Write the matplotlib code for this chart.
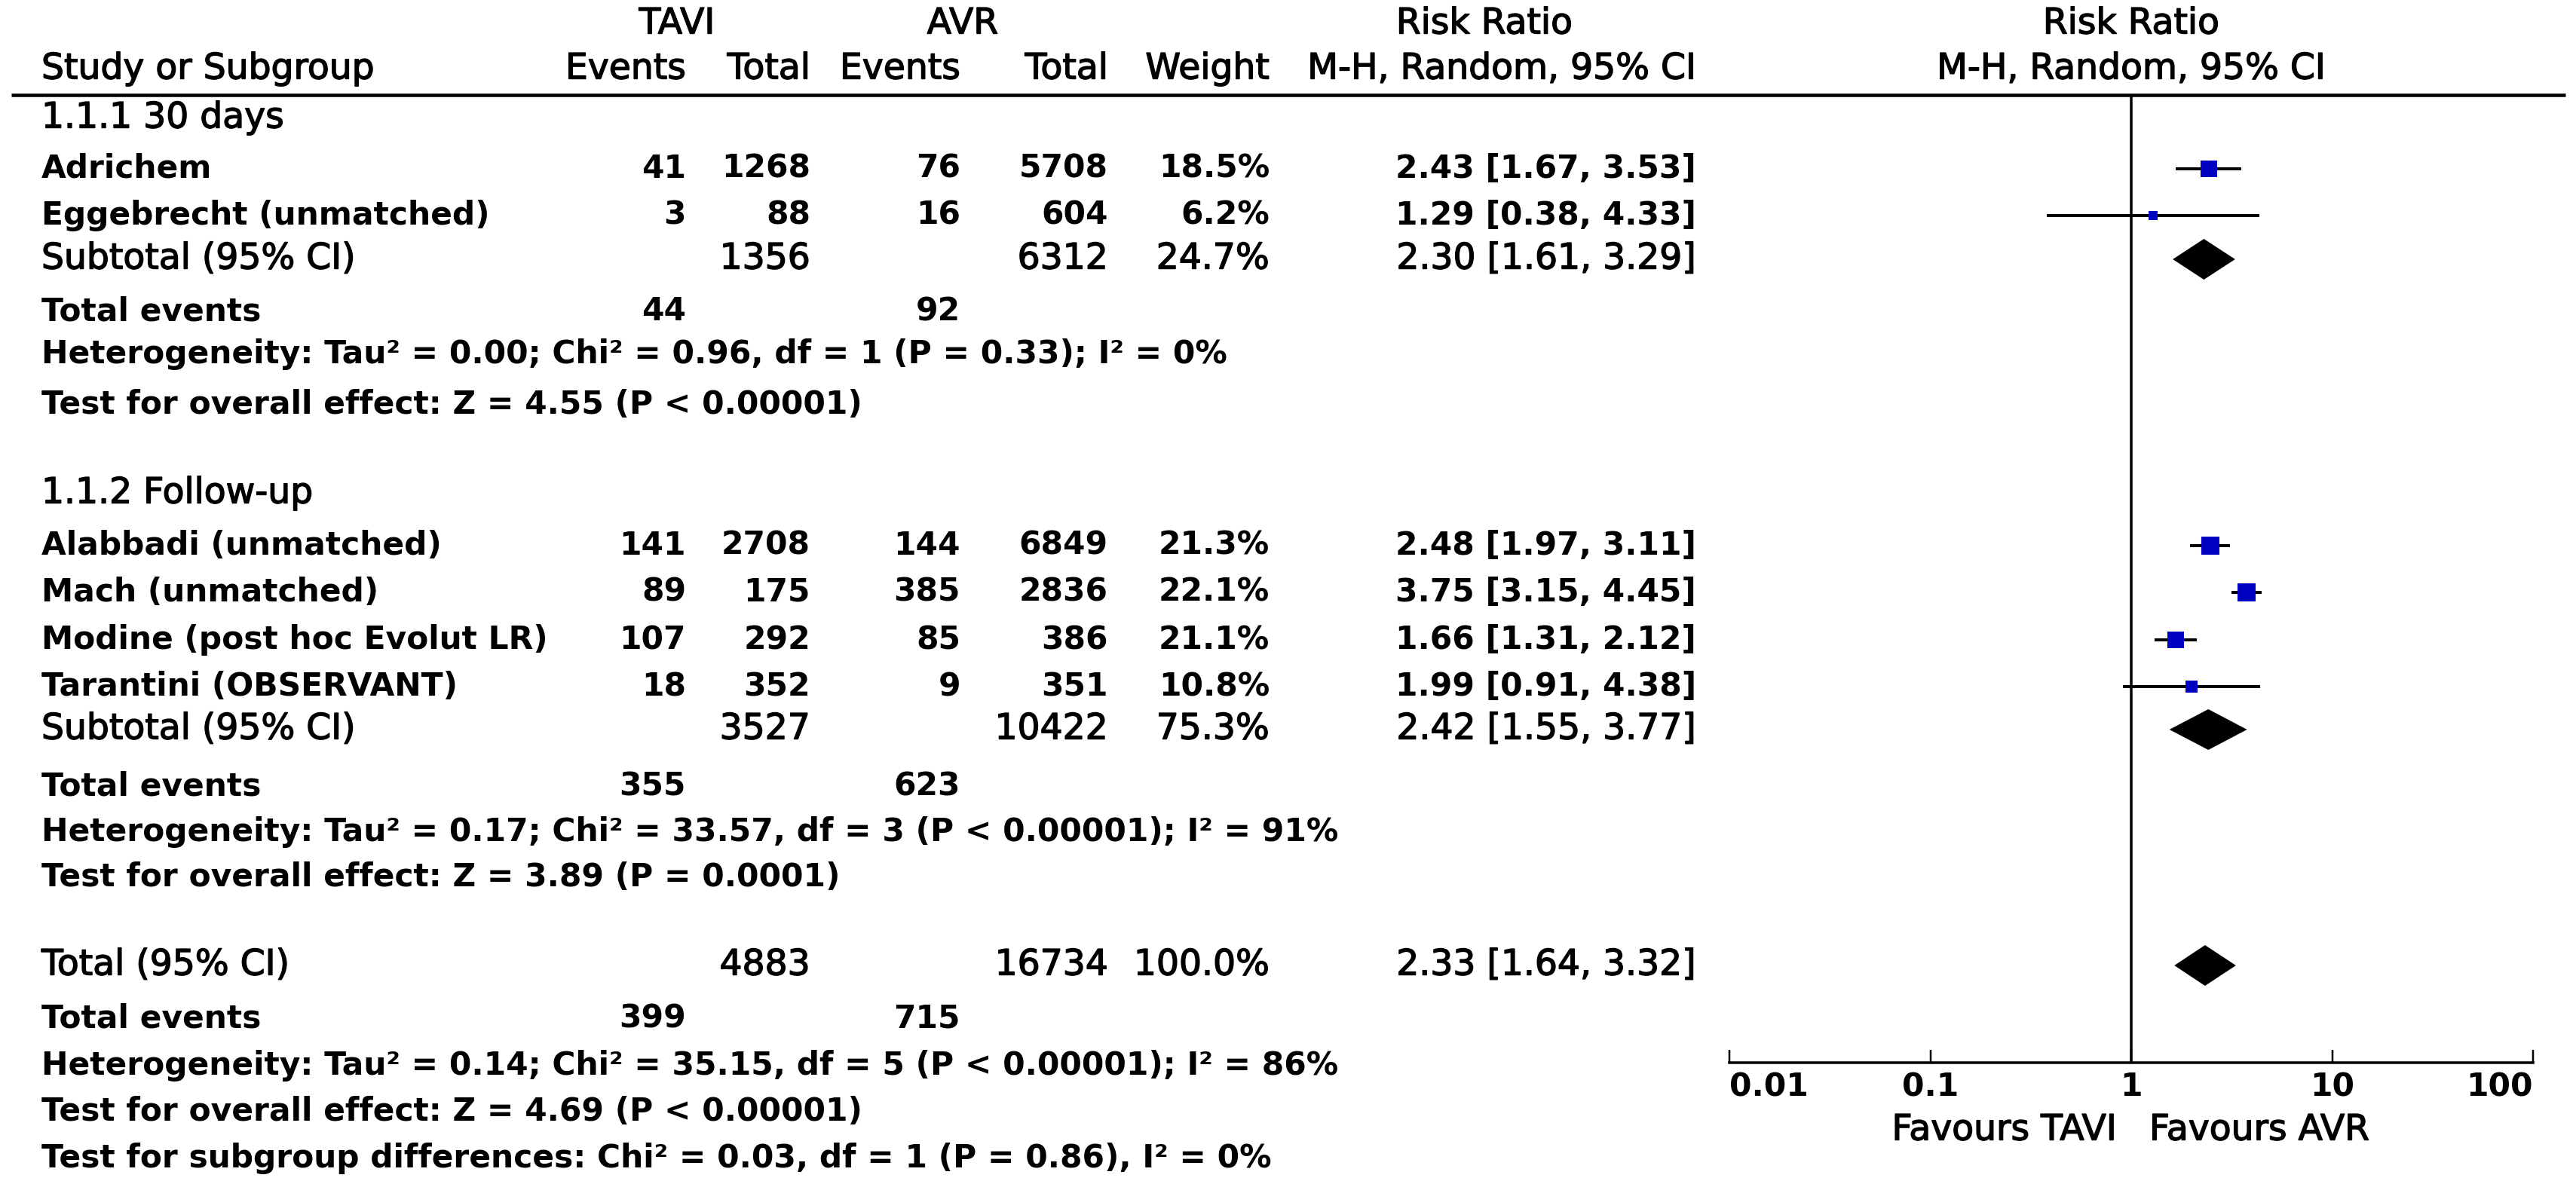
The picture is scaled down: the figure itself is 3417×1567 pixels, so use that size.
"""Forest plot: TAVI vs AVR, risk ratio (M-H, random), two subgroups."""

import matplotlib

matplotlib.use("Agg")
import matplotlib.pyplot as plt
import matplotlib.patheffects as pe
from matplotlib.patches import Polygon

# ---- data -----------------------------------------------------------------
study_names = [
    "Adrichem",
    "Eggebrecht (unmatched)",
    "Alabbadi (unmatched)",
    "Mach (unmatched)",
    "Modine (post hoc Evolut LR)",
    "Tarantini (OBSERVANT)",
]
tavi_events = [41, 3, 141, 89, 107, 18]
tavi_total = [1268, 88, 2708, 175, 292, 352]
avr_events = [76, 16, 144, 385, 85, 9]
avr_total = [5708, 604, 6849, 2836, 386, 351]
weights = [18.5, 6.2, 21.3, 22.1, 21.1, 10.8]
rr = [2.43, 1.29, 2.48, 3.75, 1.66, 1.99]
rr_lo = [1.67, 0.38, 1.97, 3.15, 1.31, 0.91]
rr_hi = [3.53, 4.33, 3.11, 4.45, 2.12, 4.38]

group_labels = ["1.1.1 30 days", "1.1.2 Follow-up"]
sub_tavi_total = [1356, 3527]
sub_avr_total = [6312, 10422]
sub_weight = [24.7, 75.3]
sub_rr = [2.30, 2.42]
sub_lo = [1.61, 1.55]
sub_hi = [3.29, 3.77]
sub_tavi_events = [44, 355]
sub_avr_events = [92, 623]
sub_het = [
    "Heterogeneity: Tau² = 0.00; Chi² = 0.96, df = 1 (P = 0.33); I² = 0%",
    "Heterogeneity: Tau² = 0.17; Chi² = 33.57, df = 3 (P < 0.00001); I² = 91%",
]
sub_z = [
    "Test for overall effect: Z = 4.55 (P < 0.00001)",
    "Test for overall effect: Z = 3.89 (P = 0.0001)",
]

tot_tavi_total = 4883
tot_avr_total = 16734
tot_weight = 100.0
tot_rr, tot_lo, tot_hi = 2.33, 1.64, 3.32
tot_tavi_events = 399
tot_avr_events = 715
tot_het = "Heterogeneity: Tau² = 0.14; Chi² = 35.15, df = 5 (P < 0.00001); I² = 86%"
tot_z = "Test for overall effect: Z = 4.69 (P < 0.00001)"
tot_diff = "Test for subgroup differences: Chi² = 0.03, df = 1 (P = 0.86), I² = 0%"

tick_values = [0.01, 0.1, 1, 10, 100]
tick_labels = ["0.01", "0.1", "1", "10", "100"]

# ---- layout (pixels, from the top-left) -------------------------------------
W, H, DPI = 3417, 1567, 100
PX = 72 / DPI  # points per pixel

study_y = [224, 286, 724, 786, 849, 911]
group_y = [157, 655]
sub_y = [344, 968]
sub_ev_y = [413, 1044]
sub_het_y = [470, 1104]
sub_z_y = [537, 1164]
tot_y, tot_ev_y, tot_het_y, tot_z_y, tot_diff_y = 1281, 1352, 1414, 1475, 1537
head1_y, head2_y, rule_y = 32, 92, 126
axis_y = 1410

x_left = 55
x_tavi_ev, x_tavi_tot = 910, 1075
x_avr_ev, x_avr_tot = 1274, 1470
x_weight, x_ci = 1684, 2250
x_plot0, x_plot1 = 2294, 3360

FS = 34      # regular text
FSB = 30.5   # bold text
BLUE = "#0000c0"
THICK = [pe.withStroke(linewidth=1.4 * PX, foreground="black")]

fig = plt.figure(figsize=(W / DPI, H / DPI), dpi=DPI)
ax = fig.add_axes([0, 0, 1, 1])
ax.set_xlim(0, W)
ax.set_ylim(H, 0)
ax.axis("off")


def txt(x, y, s, ha="left", bold=False):
    t = ax.text(x, y, s, ha=ha, va="center", fontsize=FSB if bold else FS,
                fontweight="bold" if bold else "normal", color="black")
    if not bold:
        t.set_path_effects(THICK)


def ci_text(r, lo, hi):
    return f"{r:.2f} [{lo:.2f}, {hi:.2f}]"


# header
txt(898, head1_y, "TAVI", ha="center")
txt(1277, head1_y, "AVR", ha="center")
txt(1969, head1_y, "Risk Ratio", ha="center")
txt(2827, head1_y, "Risk Ratio", ha="center")
txt(x_left, head2_y, "Study or Subgroup")
txt(x_tavi_ev, head2_y, "Events", ha="right")
txt(x_tavi_tot, head2_y, "Total", ha="right")
txt(x_avr_ev, head2_y, "Events", ha="right")
txt(x_avr_tot, head2_y, "Total", ha="right")
txt(x_weight, head2_y, "Weight", ha="right")
txt(x_ci, head2_y, "M-H, Random, 95% CI", ha="right")
txt(2827, head2_y, "M-H, Random, 95% CI", ha="center")
ax.plot([15, 3403], [rule_y, rule_y], color="black", lw=4.5 * PX,
        solid_capstyle="butt")

# table body
for i, name in enumerate(study_names):
    y = study_y[i]
    txt(x_left, y, name, bold=True)
    txt(x_tavi_ev, y, str(tavi_events[i]), ha="right", bold=True)
    txt(x_tavi_tot, y, str(tavi_total[i]), ha="right", bold=True)
    txt(x_avr_ev, y, str(avr_events[i]), ha="right", bold=True)
    txt(x_avr_tot, y, str(avr_total[i]), ha="right", bold=True)
    txt(x_weight, y, f"{weights[i]:.1f}%", ha="right", bold=True)
    txt(x_ci, y, ci_text(rr[i], rr_lo[i], rr_hi[i]), ha="right", bold=True)

for g in range(2):
    txt(x_left, group_y[g], group_labels[g])
    txt(x_left, sub_y[g], "Subtotal (95% CI)")
    txt(x_tavi_tot, sub_y[g], str(sub_tavi_total[g]), ha="right")
    txt(x_avr_tot, sub_y[g], str(sub_avr_total[g]), ha="right")
    txt(x_weight, sub_y[g], f"{sub_weight[g]:.1f}%", ha="right")
    txt(x_ci, sub_y[g], ci_text(sub_rr[g], sub_lo[g], sub_hi[g]), ha="right")
    txt(x_left, sub_ev_y[g], "Total events", bold=True)
    txt(x_tavi_ev, sub_ev_y[g], str(sub_tavi_events[g]), ha="right", bold=True)
    txt(x_avr_ev, sub_ev_y[g], str(sub_avr_events[g]), ha="right", bold=True)
    txt(x_left, sub_het_y[g], sub_het[g], bold=True)
    txt(x_left, sub_z_y[g], sub_z[g], bold=True)

txt(x_left, tot_y, "Total (95% CI)")
txt(x_tavi_tot, tot_y, str(tot_tavi_total), ha="right")
txt(x_avr_tot, tot_y, str(tot_avr_total), ha="right")
txt(x_weight, tot_y, f"{tot_weight:.1f}%", ha="right")
txt(x_ci, tot_y, ci_text(tot_rr, tot_lo, tot_hi), ha="right")
txt(x_left, tot_ev_y, "Total events", bold=True)
txt(x_tavi_ev, tot_ev_y, str(tot_tavi_events), ha="right", bold=True)
txt(x_avr_ev, tot_ev_y, str(tot_avr_events), ha="right", bold=True)
txt(x_left, tot_het_y, tot_het, bold=True)
txt(x_left, tot_z_y, tot_z, bold=True)
txt(x_left, tot_diff_y, tot_diff, bold=True)

# ---- forest panel (log scale) ---------------------------------------------
axf = fig.add_axes([x_plot0 / W, 0, (x_plot1 - x_plot0) / W, 1])
axf.set_xscale("log")
axf.set_xlim(0.01, 100)
axf.set_ylim(H, 0)
axf.patch.set_visible(False)
for side in ("left", "right", "top"):
    axf.spines[side].set_visible(False)
axf.spines["bottom"].set_position(("data", axis_y))
axf.spines["bottom"].set_linewidth(3.5 * PX)
axf.set_yticks([])
axf.set_xticks(tick_values, tick_labels)
axf.minorticks_off()
axf.tick_params(axis="x", direction="in", length=17 * PX, width=2.5 * PX,
                pad=8, labelsize=FSB)
xlabels = axf.get_xticklabels()
for lab in xlabels:
    lab.set_fontweight("bold")
xlabels[0].set_horizontalalignment("left")
xlabels[-1].set_horizontalalignment("right")

axf.vlines(1, rule_y, axis_y, color="black", lw=3.5 * PX)

for i in range(len(study_names)):
    y = study_y[i]
    axf.hlines(y, rr_lo[i], rr_hi[i], color="black", lw=4 * PX)
    side = 5.0 * weights[i] ** 0.5
    axf.plot(rr[i], y, marker="s", ms=side * PX, color=BLUE, mec=BLUE, mew=0)


def diamond(y, r, lo, hi, half=27):
    axf.add_patch(Polygon([(lo, y), (r, y - half), (hi, y), (r, y + half)],
                          closed=True, facecolor="black", edgecolor="black", lw=0))


for g in range(2):
    diamond(sub_y[g], sub_rr[g], sub_lo[g], sub_hi[g])
diamond(tot_y, tot_rr, tot_lo, tot_hi)

txt(2808, 1500, "Favours TAVI", ha="right")
txt(2851, 1500, "Favours AVR", ha="left")

fig.savefig("out.png", dpi=DPI)
